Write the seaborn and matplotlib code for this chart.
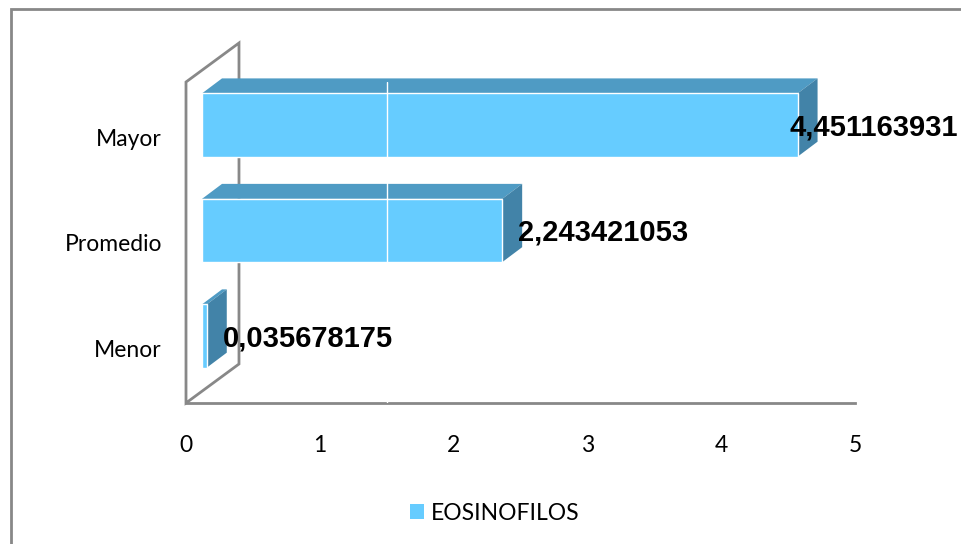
import matplotlib
matplotlib.use("Agg")
import matplotlib.pyplot as plt
from matplotlib.patches import Polygon, Rectangle, Patch
from matplotlib.transforms import ScaledTranslation
import seaborn as sns
import pandas as pd

# ---- data ----
categories = ["Mayor", "Promedio", "Menor"]
values = [4.451163931, 2.243421053, 0.035678175]
x_ticks = [0, 1, 2, 3, 4, 5]
series_name = "EOSINOFILOS"

FRONT = "#66CCFF"
TOP = "#4F9BC4"
SIDE = "#4283A8"
GRAY = "#888888"

sns.set_style("white")
plt.rcParams["font.family"] = ["Lato", "DejaVu Sans"]
plt.rcParams["text.color"] = "black"
plt.rcParams["xtick.color"] = "black"
plt.rcParams["ytick.color"] = "black"

W, H, DPI = 961, 544, 100
fig = plt.figure(figsize=(W / DPI, H / DPI), dpi=DPI)
ax = fig.add_axes([186 / W, 1 - 403 / H, (855 - 186) / W, (403 - 82) / H])

df = pd.DataFrame({"cat": categories, "val": values})
sns.barplot(data=df, x="val", y="cat", orient="h", color=FRONT, width=0.6,
            saturation=1, ax=ax, zorder=3)

ax.set_xlim(0, 5)
ax.set_ylim(2.635, -0.408)
ax.set_xticks(x_ticks)
ax.set_xticklabels([str(t) for t in x_ticks], fontsize=16.5, color="black")
ax.tick_params(axis="x", length=0, pad=23)
ax.set_yticks([])
ax.set_xlabel("")
ax.set_ylabel("")
for s in ["top", "right", "left"]:
    ax.spines[s].set_visible(False)
ax.spines["bottom"].set_color(GRAY)
ax.spines["bottom"].set_linewidth(2)
ax.patch.set_alpha(0)

bars = list(ax.patches)[:len(values)]

# back wall (3D effect)
wall = Polygon([(0, 0), (0, 1), (0.0792, 1.1215), (0.0792, 0.1215)],
               closed=True, transform=ax.transAxes, facecolor="white",
               edgecolor=GRAY, lw=2, clip_on=False, zorder=1)
ax.add_patch(wall)

# 3D faces of bars
sx, dx, dy = 16, 20, 15
inv = ax.transData.inverted()
shift = ScaledTranslation(sx / DPI, 0, fig.dpi_scale_trans)
for p in bars:
    x0, y0, w, h = p.get_x(), p.get_y(), p.get_width(), p.get_height()
    (a, b), (c, d) = ax.transData.transform([(x0, y0), (x0 + w, y0 + h)])
    left, right = min(a, c) + sx, max(a, c) + sx
    bot, top = min(b, d), max(b, d)
    p.set_transform(ax.transData + shift)
    p.set_clip_on(False)
    topface = inv.transform([(left, top), (right, top), (right + dx, top + dy), (left + dx, top + dy)])
    side = inv.transform([(right, bot), (right, top), (right + dx, top + dy), (right + dx, bot + dy)])
    ax.add_patch(Polygon(topface, closed=True, facecolor=TOP, edgecolor="none", zorder=2.9, clip_on=False))
    ax.add_patch(Polygon(side, closed=True, facecolor=SIDE, edgecolor="none", zorder=2.9, clip_on=False))

ax.axvline(1.5, color="white", lw=1, zorder=4)

# category labels
for i, cat in enumerate(categories):
    ax.annotate(cat, xy=(0, i), xycoords=("axes fraction", "data"),
                xytext=(-24, -14), textcoords="offset pixels",
                ha="right", va="center", fontsize=16.5, color="black")

# value labels
vlabels = []
for i, v in enumerate(values):
    t = ax.annotate(f"{v:.9f}".replace(".", ","), xy=(v, i), xycoords="data",
                    xytext=(32, -2), textcoords="offset pixels",
                    ha="left", va="center", fontsize=21, fontweight="bold",
                    color="black", family=["Liberation Sans", "DejaVu Sans"],
                    zorder=6, annotation_clip=False)
    vlabels.append(t)

fig.canvas.draw()
for t in vlabels:
    bb = t.get_window_extent()
    if bb.x1 > W - 3:
        ox, oy = t.xyann
        t.xyann = (ox - (bb.x1 - (W - 3)), oy)

# legend
fig.legend(handles=[Patch(facecolor=FRONT, edgecolor="none", label=series_name)],
           loc="center", bbox_to_anchor=(495 / W, 1 - 513 / H), frameon=False,
           fontsize=16.5, handlelength=0.6, handleheight=0.6, handletextpad=0.3,
           labelcolor="black")

# outer border
fig.patches.append(Rectangle((11 / W, -0.1), 1.2, 1 - 9 / H + 0.1,
                             transform=fig.transFigure, fill=False,
                             edgecolor=GRAY, lw=2))

fig.savefig("out.png", dpi=DPI)
